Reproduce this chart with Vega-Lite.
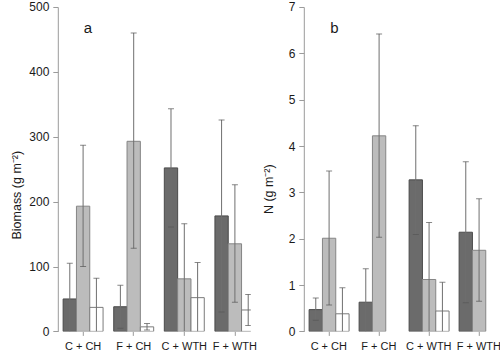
{
  "$schema": "https://vega.github.io/schema/vega-lite/v6.json",
  "autosize": {"type": "pad"},
  "padding": {"left": 10.8, "top": 1, "right": 0, "bottom": 0},
  "background": "white",
  "config": {
    "view": {"stroke": null},
    "font": "Liberation Sans",
    "axis": {"domainColor": "#9a9a9a", "tickColor": "#9a9a9a", "labelColor": "#1a1a1a", "titleColor": "#1a1a1a", "labelFont": "Liberation Sans", "titleFont": "Liberation Sans", "titleFontWeight": "normal", "grid": false}
  },
  "datasets": {
    "biomass": [
      {"group": "C + CH", "series": "s1", "value": 50, "lo": 0, "hi": 105},
      {"group": "C + CH", "series": "s2", "value": 193, "lo": 100, "hi": 287},
      {"group": "C + CH", "series": "s3", "value": 37, "lo": 0, "hi": 82},
      {"group": "F + CH", "series": "s1", "value": 38, "lo": 5, "hi": 71},
      {"group": "F + CH", "series": "s2", "value": 293, "lo": 128, "hi": 460},
      {"group": "F + CH", "series": "s3", "value": 7, "lo": 2, "hi": 12},
      {"group": "C + WTH", "series": "s1", "value": 252, "lo": 161, "hi": 343},
      {"group": "C + WTH", "series": "s2", "value": 81, "lo": 0, "hi": 166},
      {"group": "C + WTH", "series": "s3", "value": 52, "lo": 0, "hi": 106},
      {"group": "F + WTH", "series": "s1", "value": 178, "lo": 30, "hi": 326},
      {"group": "F + WTH", "series": "s2", "value": 135, "lo": 45, "hi": 226},
      {"group": "F + WTH", "series": "s3", "value": 33, "lo": 9, "hi": 57}
    ],
    "nitrogen": [
      {"group": "C + CH", "series": "s1", "value": 0.47, "lo": 0.24, "hi": 0.72},
      {"group": "C + CH", "series": "s2", "value": 2.01, "lo": 0.57, "hi": 3.46},
      {"group": "C + CH", "series": "s3", "value": 0.38, "lo": 0, "hi": 0.94},
      {"group": "F + CH", "series": "s1", "value": 0.63, "lo": 0, "hi": 1.35},
      {"group": "F + CH", "series": "s2", "value": 4.22, "lo": 2.03, "hi": 6.42},
      {"group": "C + WTH", "series": "s1", "value": 3.27, "lo": 2.09, "hi": 4.44},
      {"group": "C + WTH", "series": "s2", "value": 1.12, "lo": 0, "hi": 2.35},
      {"group": "C + WTH", "series": "s3", "value": 0.44, "lo": 0, "hi": 1.06},
      {"group": "F + WTH", "series": "s1", "value": 2.14, "lo": 0.62, "hi": 3.66},
      {"group": "F + WTH", "series": "s2", "value": 1.75, "lo": 0.65, "hi": 2.86}
    ]
  },
  "bounds": "flush",
  "spacing": 53,
  "hconcat": [
    {
      "width": 193,
      "height": 324.4,
      "data": {"name": "biomass"},
      "title": {"text": "a", "anchor": "start", "frame": "group", "dx": 26, "offset": -47, "baseline": "alphabetic", "fontSize": 15, "fontWeight": "normal", "font": "Liberation Sans", "color": "#1a1a1a"},
      "encoding": {
        "x": {"field": "group", "type": "nominal", "sort": ["C + CH", "F + CH", "C + WTH", "F + WTH"],
          "scale": {"range": [0, 202.4], "paddingInner": 0, "paddingOuter": 0},
          "axis": {"title": null, "labelAngle": 0, "domain": false, "tickSize": 4, "labelPadding": 5, "labelFontSize": 11}},
        "xOffset": {"field": "series", "type": "nominal", "sort": ["s1", "s2", "s3"], "scale": {"domain": ["s1", "s2", "s3"], "paddingInner": 0, "paddingOuter": 0.4}}
      },
      "layer": [
        {
          "mark": {"type": "bar", "clip": true, "strokeWidth": 1},
          "encoding": {
            "y": {"field": "value", "type": "quantitative", "scale": {"domain": [0, 500], "nice": false},
              "axis": {"title": "Biomass (g m⁻²)", "titleFontSize": 12.5, "titleX": -34, "titleY": 187.7,
                "values": [0, 50, 100, 150, 200, 250, 300, 350, 400, 450, 500],
                "labelExpr": "datum.value % 100 === 0 ? datum.label : ''",
                "tickSize": {"condition": {"test": "datum.value % 100 !== 0", "value": 3}, "value": 5},
                "labelPadding": 4, "labelFontSize": 12}},
            "fill": {"field": "series", "type": "nominal", "scale": {"domain": ["s1", "s2", "s3"], "range": ["#6b6b6b", "#bcbcbc", "#ffffff"]}, "legend": null},
            "stroke": {"field": "series", "type": "nominal", "scale": {"domain": ["s1", "s2", "s3"], "range": ["#4a4a4a", "#858585", "#7a7a7a"]}, "legend": null}
          }
        },
        {
          "mark": {"type": "rule", "clip": true, "color": "#6e6e6e", "strokeWidth": 1},
          "encoding": {"y": {"field": "lo", "type": "quantitative"}, "y2": {"field": "hi"}}
        },
        {
          "mark": {"type": "tick", "clip": true, "color": "#555555", "size": 6, "thickness": 1},
          "encoding": {"y": {"field": "hi", "type": "quantitative"}}
        },
        {
          "transform": [{"filter": "datum.lo > 0"}],
          "mark": {"type": "tick", "clip": true, "color": "#555555", "size": 6, "thickness": 1},
          "encoding": {"y": {"field": "lo", "type": "quantitative"}}
        },
        {
          "mark": {"type": "rule", "color": "#9a9a9a", "strokeWidth": 1},
          "encoding": {"y": {"datum": 0}}
        }
      ]
    },
    {
      "width": 197,
      "height": 324.4,
      "data": {"name": "nitrogen"},
      "title": {"text": "b", "anchor": "start", "frame": "group", "dx": 26.5, "offset": -47, "baseline": "alphabetic", "fontSize": 15, "fontWeight": "normal", "font": "Liberation Sans", "color": "#1a1a1a"},
      "encoding": {
        "x": {"field": "group", "type": "nominal", "sort": ["C + CH", "F + CH", "C + WTH", "F + WTH"],
          "scale": {"range": [0, 200], "paddingInner": 0, "paddingOuter": 0},
          "axis": {"title": null, "labelAngle": 0, "domain": false, "tickSize": 4, "labelPadding": 5, "labelFontSize": 11}},
        "xOffset": {"field": "series", "type": "nominal", "sort": ["s1", "s2", "s3"], "scale": {"domain": ["s1", "s2", "s3"], "paddingInner": 0, "paddingOuter": 0.45}}
      },
      "layer": [
        {
          "mark": {"type": "bar", "clip": true, "strokeWidth": 1},
          "encoding": {
            "y": {"field": "value", "type": "quantitative", "scale": {"domain": [0, 7], "nice": false},
              "axis": {"title": "N (g m⁻²)", "titleFontSize": 12.5, "titleX": -28.3, "titleY": 181.7,
                "values": [0, 0.5, 1, 1.5, 2, 2.5, 3, 3.5, 4, 4.5, 5, 5.5, 6, 6.5, 7],
                "labelExpr": "datum.value % 1 === 0 ? datum.label : ''",
                "tickSize": {"condition": {"test": "datum.value % 1 !== 0", "value": 3}, "value": 5},
                "labelPadding": 4, "labelFontSize": 12}},
            "fill": {"field": "series", "type": "nominal", "scale": {"domain": ["s1", "s2", "s3"], "range": ["#6b6b6b", "#bcbcbc", "#ffffff"]}, "legend": null},
            "stroke": {"field": "series", "type": "nominal", "scale": {"domain": ["s1", "s2", "s3"], "range": ["#4a4a4a", "#858585", "#7a7a7a"]}, "legend": null}
          }
        },
        {
          "mark": {"type": "rule", "clip": true, "color": "#6e6e6e", "strokeWidth": 1},
          "encoding": {"y": {"field": "lo", "type": "quantitative"}, "y2": {"field": "hi"}}
        },
        {
          "mark": {"type": "tick", "clip": true, "color": "#555555", "size": 6, "thickness": 1},
          "encoding": {"y": {"field": "hi", "type": "quantitative"}}
        },
        {
          "transform": [{"filter": "datum.lo > 0"}],
          "mark": {"type": "tick", "clip": true, "color": "#555555", "size": 6, "thickness": 1},
          "encoding": {"y": {"field": "lo", "type": "quantitative"}}
        },
        {
          "mark": {"type": "rule", "color": "#9a9a9a", "strokeWidth": 1},
          "encoding": {"y": {"datum": 0}}
        }
      ]
    }
  ]
}
